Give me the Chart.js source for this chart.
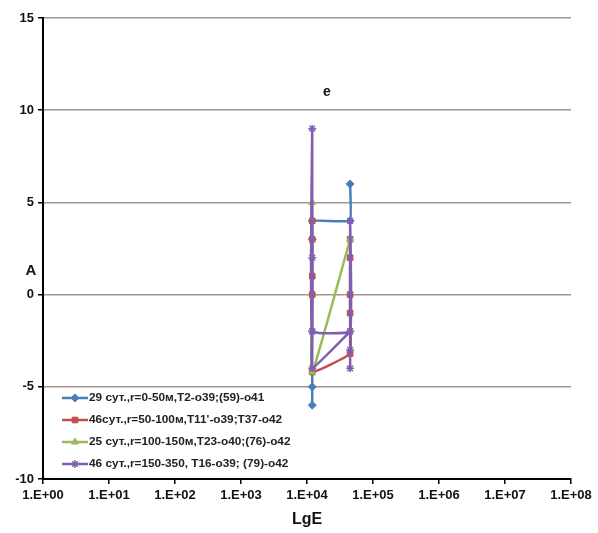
<!DOCTYPE html>
<html>
<head>
<meta charset="utf-8">
<script src="https://cdn.jsdelivr.net/npm/chart.js@4.4.1/dist/chart.umd.min.js"></script>
<style>
  html, body { margin: 0; padding: 0; background: #fff; }
  #wrap { width: 598px; height: 533px; position: relative; }
</style>
</head>
<body>
<div id="wrap"><canvas id="grafico"></canvas></div>
<script>
// series names (legend)
const nomes = [
    '29 сут.,r=0-50м,T2-o39;(59)-o41',
    '46сут.,r=50-100м,T11\'-o39;T37-o42',
    '25 сут.,r=100-150м,T23-o40;(76)-o42',
    '46 сут.,r=150-350, T16-o39; (79)-o42'
];

// values: E (log axis) and A
const s1E = [4.5e4, 4.5e4, 1.2e4, 1.2e4, 1.2e4, 1.2e4];
const s1A = [6, 4, 4, 3, -5, -6];

const s2E = [1.2e4, 1.2e4, 1.2e4, 1.2e4, 1.2e4, 4.5e4, 4.5e4, 4.5e4, 4.5e4, 4.5e4];
const s2A = [4, 3, 1, 0, -4.2, -3.2, -1, 0, 2, 3];

const s3E = [1.2e4, 1.2e4, 4.5e4];
const s3A = [5, -4.2, 3];

const s4E = [4.5e4, 4.5e4, 4.5e4, 4.5e4, 1.2e4, 1.2e4, 1.2e4, 1.2e4, 1.2e4, 4.5e4];
const s4A = [-4, -3, 4, -2, -2, 9, 2, -2, -4, -2];

const expoentes = [0, 1, 2, 3, 4, 5, 6, 7, 8];
const ticksA = [-10, -5, 0, 5, 10, 15];

const cores = ['#4a7ebb', '#c0504d', '#9bbb59', '#7f5fb0'];
const marcadores = ['rectRot', 'rect', 'triangle', 'star'];
const fonte = 'Liberation Sans';

function pontos(es, as) {
    return es.map((e, i) => ({x: e, y: as[i]}));
}

const series = [[s1E, s1A], [s2E, s2A], [s3E, s3A], [s4E, s4A]];

const datasets = series.map((s, i) => ({
    label: nomes[i],
    data: pontos(s[0], s[1]),
    showLine: true,
    borderColor: cores[i],
    backgroundColor: cores[i],
    borderWidth: 2.5,
    tension: 0.08,
    pointStyle: marcadores[i],
    pointRadius: 4,
    pointBorderWidth: i === 3 ? 1.5 : 1,
    order: 4 - i
}));

// legend + texts drawn inside the plot area
const extras = {
    id: 'extras',
    afterDraw(chart) {
        const ctx = chart.ctx;
        const x = chart.scales.x, y = chart.scales.y;
        ctx.save();
        ctx.fillStyle = '#111';
        ctx.font = 'bold 14px ' + fonte;
        ctx.textAlign = 'center';
        ctx.textBaseline = 'middle';
        ctx.fillText('e', x.getPixelForValue(2.0e4), y.getPixelForValue(11));
        ctx.font = 'bold 15px ' + fonte;
        ctx.fillText('A', 31, y.getPixelForValue(1.3));

        // legend
        ctx.font = 'bold 11.8px ' + fonte;
        ctx.textAlign = 'left';
        chart.data.datasets.forEach((ds, i) => {
            const ly = 398 + i * 22;
            ctx.strokeStyle = ds.borderColor;
            ctx.fillStyle = ds.borderColor;
            ctx.lineWidth = 2.5;
            ctx.beginPath();
            ctx.moveTo(62, ly);
            ctx.lineTo(88, ly);
            ctx.stroke();
            ctx.lineWidth = ds.pointBorderWidth;
            Chart.helpers.drawPoint(ctx, {
                pointStyle: ds.pointStyle, radius: 4, rotation: 0,
                borderWidth: ds.pointBorderWidth
            }, 75, ly);
            ctx.fillStyle = '#222';
            ctx.fillText(ds.label, 89, ly);
        });
        ctx.restore();
    }
};

new Chart(document.getElementById('grafico'), {
    type: 'scatter',
    data: { datasets: datasets },
    options: {
        responsive: true,
        maintainAspectRatio: false,
        animation: false,
        layout: { padding: { top: 18, right: 27, left: 0, bottom: 4 } },
        plugins: {
            legend: { display: false },
            tooltip: { enabled: false }
        },
        scales: {
            x: {
                type: 'logarithmic',
                min: 1,
                max: 1e8,
                afterBuildTicks: (axis) => {
                    axis.ticks = expoentes.map(e => ({value: Math.pow(10, e)}));
                },
                afterFit: (scale) => { scale.height = 50; },
                ticks: {
                    autoSkip: false,
                    maxRotation: 0,
                    color: '#111',
                    padding: 4,
                    font: { family: fonte, size: 13, weight: 'bold' },
                    callback: (v) => '1.E+' + String(Math.round(Math.log10(v))).padStart(2, '0')
                },
                grid: {
                    drawOnChartArea: false,
                    drawTicks: true,
                    tickLength: 5,
                    color: '#000',
                    lineWidth: 1.5
                },
                border: { display: true, color: '#000', width: 2 },
                title: {
                    display: true,
                    text: 'LgE',
                    color: '#111',
                    padding: { top: 0, bottom: 0 },
                    font: { family: fonte, size: 16, weight: 'bold' }
                }
            },
            y: {
                min: -10,
                max: 15,
                afterBuildTicks: (axis) => {
                    axis.ticks = ticksA.map(v => ({value: v}));
                },
                afterFit: (scale) => { scale.width = 43; },
                ticks: {
                    color: '#111',
                    padding: 4,
                    font: { family: fonte, size: 13, weight: 'bold' }
                },
                grid: {
                    color: '#a8968c',
                    lineWidth: 1.5,
                    tickLength: 5,
                    tickColor: '#000'
                },
                border: { display: true, color: '#000', width: 2 }
            }
        }
    },
    plugins: [extras]
});
</script>
</body>
</html>
